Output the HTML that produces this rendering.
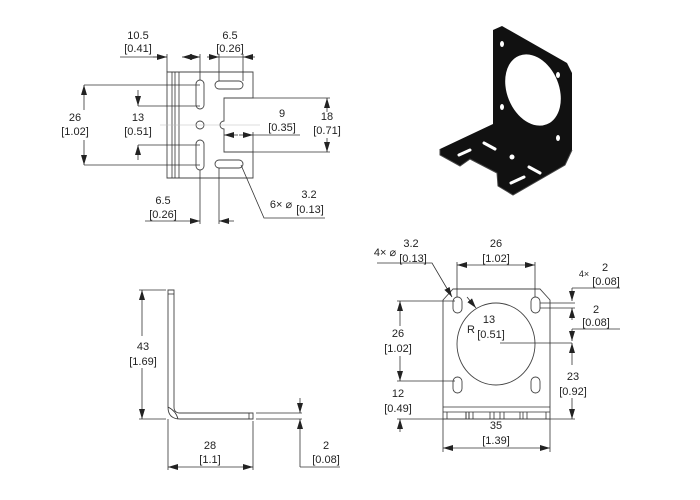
<!DOCTYPE html>
<html><head><style>
body{margin:0;background:#fff}
svg{display:block}
text{font-family:"Liberation Sans",sans-serif;font-size:11px;fill:#222;text-anchor:middle}
.l{stroke:#333;stroke-width:0.8;fill:none}
.p{stroke:#444;stroke-width:0.9;fill:#fff}
</style></head><body>
<svg width="700" height="500" viewBox="0 0 700 500">
<defs>
<marker id="a" viewBox="0 0 10 6" refX="10" refY="3" markerWidth="10" markerHeight="6" orient="auto-start-reverse" markerUnits="userSpaceOnUse"><path d="M0,0L10,3L0,6z" fill="#222"/></marker>
</defs>

<!-- TOP LEFT VIEW -->
<path class="p" d="M167,72H253V98H224V121A4,4 0 0 0 224,129V152H253V178H167Z"/>
<line class="l" x1="172" y1="72" x2="172" y2="178"/>
<line class="l" x1="175" y1="72" x2="175" y2="178"/>
<line class="l" x1="179" y1="72" x2="179" y2="178"/>
<rect class="p" x="196" y="80" width="8" height="29" rx="4"/>
<rect class="p" x="196" y="140" width="8" height="30" rx="4"/>
<circle class="p" cx="200" cy="125" r="4"/>
<rect class="p" x="215" y="81" width="28" height="8" rx="4"/>
<rect class="p" x="215" y="160" width="28" height="8" rx="4"/>
<line stroke="#bbb" stroke-width="0.6" x1="160" y1="125" x2="260" y2="125"/>
<!-- 10.5 -->
<line class="l" x1="167" y1="54" x2="167" y2="72"/>
<line class="l" x1="200" y1="54" x2="200" y2="80"/>
<line class="l" x1="120" y1="57" x2="167" y2="57"/>
<line class="l" x1="153" y1="57" x2="167" y2="57" marker-end="url(#a)"/>
<line class="l" x1="200" y1="57" x2="182" y2="57" marker-start="url(#a)" marker-end="url(#a)"/>
<text x="138" y="39">10.5</text><text x="138" y="52">[0.41]</text>
<!-- 6.5 top -->
<line class="l" x1="219" y1="54" x2="219" y2="81"/>
<line class="l" x1="243" y1="54" x2="243" y2="81"/>
<line class="l" x1="207" y1="57" x2="219" y2="57" marker-end="url(#a)"/>
<line class="l" x1="255" y1="57" x2="243" y2="57" marker-end="url(#a)"/>
<line class="l" x1="219" y1="57" x2="243" y2="57"/>
<text x="230" y="39">6.5</text><text x="230" y="52">[0.26]</text>
<!-- 26 -->
<line class="l" x1="84" y1="85" x2="200" y2="85"/>
<line class="l" x1="84" y1="165" x2="200" y2="165"/>
<line class="l" x1="84" y1="110" x2="84" y2="85" marker-end="url(#a)"/>
<line class="l" x1="84" y1="140" x2="84" y2="165" marker-end="url(#a)"/>
<text x="75" y="121">26</text><text x="75" y="135">[1.02]</text>
<!-- 13 -->
<line class="l" x1="138" y1="106" x2="200" y2="106"/>
<line class="l" x1="138" y1="145" x2="200" y2="145"/>
<line class="l" x1="138" y1="90" x2="138" y2="106" marker-end="url(#a)"/>
<line class="l" x1="138" y1="160" x2="138" y2="145" marker-end="url(#a)"/>
<text x="138" y="121">13</text><text x="138" y="135">[0.51]</text>
<!-- 9 -->
<line class="l" x1="253" y1="152" x2="253" y2="132"/>
<line class="l" x1="238" y1="135" x2="224" y2="135" marker-end="url(#a)"/>
<line class="l" x1="239" y1="135" x2="253" y2="135" marker-end="url(#a)"/>
<line class="l" x1="253" y1="135" x2="300" y2="135"/>
<text x="282" y="117">9</text><text x="282" y="131">[0.35]</text>
<!-- 18 -->
<line class="l" x1="253" y1="98" x2="330" y2="98"/>
<line class="l" x1="253" y1="152" x2="330" y2="152"/>
<line class="l" x1="327" y1="112" x2="327" y2="98" marker-end="url(#a)"/>
<line class="l" x1="327" y1="138" x2="327" y2="152" marker-end="url(#a)"/>
<text x="327" y="120">18</text><text x="327" y="134">[0.71]</text>
<!-- 6.5 bottom -->
<line class="l" x1="200" y1="170" x2="200" y2="224"/>
<line class="l" x1="219" y1="168" x2="219" y2="224"/>
<line class="l" x1="145" y1="221" x2="200" y2="221" marker-end="url(#a)"/>
<line class="l" x1="234" y1="221" x2="219" y2="221" marker-end="url(#a)"/>
<text x="163" y="204">6.5</text><text x="163" y="218">[0.26]</text>
<!-- 6x leader -->
<polyline class="l" points="241,165 264,218 325,218"/>
<text x="281" y="208">6× ⌀</text><text x="309" y="198">3.2</text><text x="310" y="213">[0.13]</text>

<!-- ISO VIEW -->
<path d="M493,30L502,26L567,63L572,73L572,150L565,165L513,195L498,186L497,173L470,159L460,166L440,155L440,149L493,124Z" fill="#111"/>
<path d="M572,150L565,165L513,195L498,186L497,173L470,159L460,166L440,155L440,149" fill="none" stroke="#444" stroke-width="1"/>
<ellipse cx="533" cy="90" rx="26" ry="37" transform="rotate(-22 533 90)" fill="#fff"/>
<ellipse cx="502" cy="44" rx="2" ry="3" fill="#fff"/>
<ellipse cx="558" cy="75" rx="2" ry="3" fill="#fff"/>
<ellipse cx="502" cy="107" rx="2" ry="3" fill="#fff"/>
<ellipse cx="558" cy="138" rx="2" ry="3" fill="#fff"/>
<line x1="484" y1="143" x2="495" y2="149" stroke="#fff" stroke-width="3" stroke-linecap="round"/>
<line x1="459" y1="155" x2="470" y2="150" stroke="#fff" stroke-width="3" stroke-linecap="round"/>
<line x1="529" y1="167" x2="540" y2="173" stroke="#fff" stroke-width="3" stroke-linecap="round"/>
<line x1="511" y1="183" x2="524" y2="177" stroke="#fff" stroke-width="3" stroke-linecap="round"/>
<circle cx="512" cy="157" r="2.5" fill="#fff"/>

<!-- SIDE VIEW -->
<path class="p" d="M168,290H174V407Q174,413 180,413H253V419H180Q168,419 168,407Z"/>
<line class="l" x1="168" y1="294" x2="174" y2="294"/>
<line class="l" x1="249" y1="413" x2="249" y2="419"/>
<path class="l" d="M168,407Q176,411 178,419"/>
<line class="l" x1="256" y1="413" x2="302" y2="413"/>
<line class="l" x1="256" y1="419" x2="302" y2="419"/>
<line class="l" x1="139" y1="290" x2="166" y2="290"/>
<line class="l" x1="139" y1="419" x2="166" y2="419"/>
<line class="l" x1="142" y1="336" x2="142" y2="290" marker-end="url(#a)"/>
<line class="l" x1="142" y1="368" x2="142" y2="419" marker-end="url(#a)"/>
<text x="143" y="350">43</text><text x="143" y="365">[1.69]</text>
<line class="l" x1="168" y1="419" x2="168" y2="470"/>
<line class="l" x1="253" y1="421" x2="253" y2="470"/>
<line class="l" x1="168" y1="467" x2="253" y2="467" marker-start="url(#a)" marker-end="url(#a)"/>
<text x="210" y="449">28</text><text x="210" y="463">[1.1]</text>
<line class="l" x1="300" y1="398" x2="300" y2="413" marker-end="url(#a)"/>
<line class="l" x1="300" y1="467" x2="300" y2="419" marker-end="url(#a)"/>
<line class="l" x1="300" y1="467" x2="340" y2="467"/>
<text x="326" y="449">2</text><text x="326" y="463">[0.08]</text>

<!-- FRONT VIEW -->
<path class="p" d="M443,300L453,289H540L550,300V419H443Z"/>
<line class="l" x1="443" y1="407" x2="550" y2="407"/>
<line class="l" x1="443" y1="412" x2="550" y2="412"/>
<g class="l">
<line x1="447" y1="412" x2="447" y2="419"/><line x1="466" y1="412" x2="466" y2="419"/><line x1="469" y1="412" x2="469" y2="419"/>
<line x1="466" y1="412" x2="466" y2="419"/><line x1="469" y1="412" x2="469" y2="419"/><line x1="473" y1="412" x2="473" y2="419"/>
<line x1="490" y1="412" x2="490" y2="419"/><line x1="494" y1="412" x2="494" y2="419"/><line x1="500" y1="412" x2="500" y2="419"/><line x1="504" y1="412" x2="504" y2="419"/>
<line x1="520" y1="412" x2="520" y2="419"/><line x1="523" y1="412" x2="523" y2="419"/><line x1="527" y1="412" x2="527" y2="419"/><line x1="546" y1="412" x2="546" y2="419"/>
</g>
<ellipse class="p" cx="496" cy="344" rx="39" ry="41"/>
<rect class="p" x="453" y="297" width="9" height="16" rx="4.5"/>
<rect class="p" x="531" y="297" width="9" height="16" rx="4.5"/>
<rect class="p" x="453" y="377" width="9" height="16" rx="4.5"/>
<rect class="p" x="531" y="377" width="9" height="16" rx="4.5"/>
<!-- 26 top -->
<line class="l" x1="457" y1="262" x2="457" y2="297"/>
<line class="l" x1="535" y1="262" x2="535" y2="297"/>
<line class="l" x1="457" y1="265" x2="535" y2="265" marker-start="url(#a)" marker-end="url(#a)"/>
<text x="496" y="247">26</text><text x="496" y="262">[1.02]</text>
<!-- 4x leader -->
<polyline class="l" points="377,263 432,263 452,297" marker-end="url(#a)"/>
<text x="385" y="256">4× ⌀</text><text x="411" y="247">3.2</text><text x="413" y="262">[0.13]</text>
<line class="l" x1="467" y1="297" x2="476" y2="308" marker-end="url(#a)"/>
<text x="471" y="333">R</text><text x="489" y="323">13</text><text x="491" y="338">[0.51]</text>
<line class="l" x1="500" y1="343" x2="572" y2="343"/>
<!-- 26 left -->
<line class="l" x1="397" y1="301" x2="455" y2="301"/>
<line class="l" x1="397" y1="381" x2="455" y2="381"/>
<line class="l" x1="400" y1="326" x2="400" y2="301" marker-end="url(#a)"/>
<line class="l" x1="400" y1="356" x2="400" y2="381" marker-end="url(#a)"/>
<text x="398" y="337">26</text><text x="398" y="352">[1.02]</text>
<!-- 12 -->
<line class="l" x1="397" y1="419" x2="443" y2="419"/>
<line class="l" x1="400" y1="432" x2="400" y2="419" marker-end="url(#a)"/>
<text x="398" y="397">12</text><text x="398" y="412">[0.49]</text>
<!-- right dims -->
<line class="l" x1="572" y1="288" x2="620" y2="288"/>
<line class="l" x1="572" y1="288" x2="572" y2="301" marker-end="url(#a)"/>
<line class="l" x1="540" y1="303" x2="575" y2="303"/>
<line class="l" x1="540" y1="308" x2="575" y2="308"/>
<line class="l" x1="572" y1="320" x2="572" y2="308" marker-end="url(#a)"/>
<line class="l" x1="572" y1="329" x2="620" y2="329"/>
<line class="l" x1="572" y1="329" x2="572" y2="341" marker-end="url(#a)"/>
<line class="l" x1="572" y1="365" x2="572" y2="343" marker-end="url(#a)"/>
<line class="l" x1="572" y1="398" x2="572" y2="419" marker-end="url(#a)"/>
<line class="l" x1="550" y1="419" x2="575" y2="419"/>
<text x="584" y="277" style="font-size:9px">4×</text><text x="605" y="271">2</text><text x="606" y="285">[0.08]</text>
<text x="596" y="313">2</text><text x="596" y="326">[0.08]</text>
<text x="573" y="380">23</text><text x="573" y="395">[0.92]</text>
<!-- 35 -->
<line class="l" x1="443" y1="419" x2="443" y2="452"/>
<line class="l" x1="550" y1="419" x2="550" y2="452"/>
<line class="l" x1="443" y1="448" x2="550" y2="448" marker-start="url(#a)" marker-end="url(#a)"/>
<text x="496" y="429">35</text><text x="496" y="444">[1.39]</text>
</svg>
</body></html>
